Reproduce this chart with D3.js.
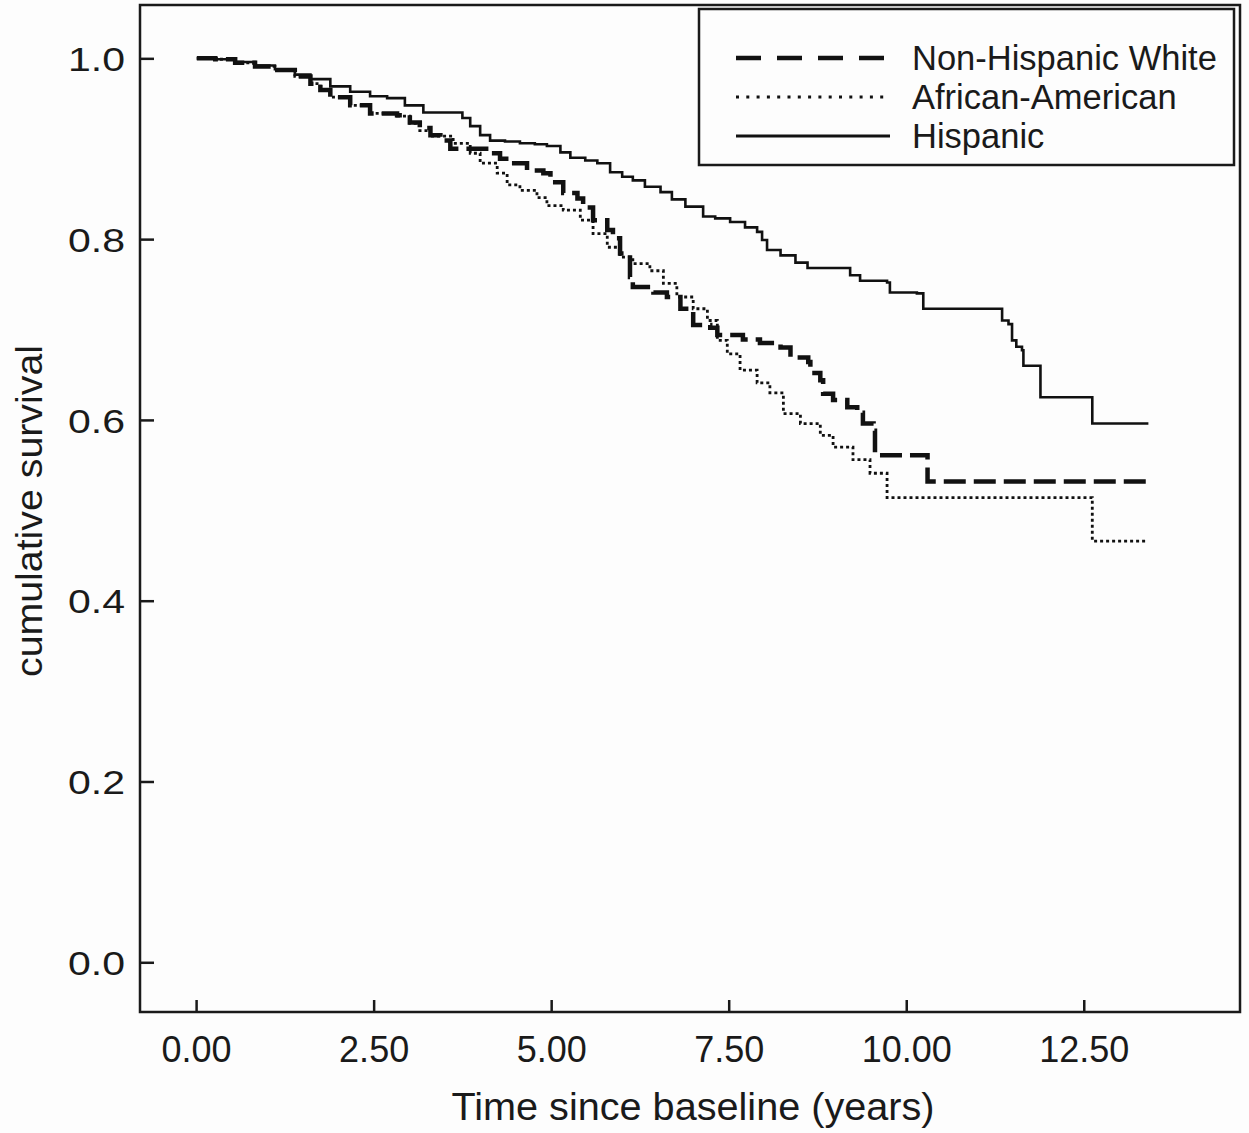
<!DOCTYPE html>
<html>
<head>
<meta charset="utf-8">
<script src="https://cdn.jsdelivr.net/npm/d3@7"></script>
<style>
  body { margin: 0; background: #fff; }
  svg text { font-family: "Liberation Sans", Arial, sans-serif; fill: #1a1a1a; }
</style>
</head>
<body>
<div id="chart"></div>
<script>
// Kaplan-Meier survival by ethnic group

const groupNames = ['Non-Hispanic White', 'African-American', 'Hispanic'];

const yTicks = [0.0, 0.2, 0.4, 0.6, 0.8, 1.0];
const xTicks = [0, 2.5, 5, 7.5, 10, 12.5];

// [time (years), cumulative survival]
const whiteCurve = [
  [0.01, 1.0], [0.27, 0.999], [0.55, 0.995], [0.83, 0.991], [1.11, 0.987], [1.39, 0.980],
  [1.61, 0.972], [1.75, 0.965], [1.89, 0.957], [2.17, 0.948], [2.45, 0.939], [2.83, 0.937],
  [3.01, 0.929], [3.15, 0.923], [3.30, 0.915], [3.44, 0.909], [3.58, 0.900], [4.14, 0.895],
  [4.28, 0.889], [4.42, 0.884], [4.66, 0.876], [4.89, 0.873], [4.99, 0.863], [5.17, 0.851],
  [5.37, 0.845], [5.45, 0.835], [5.59, 0.821], [5.79, 0.810], [5.87, 0.801], [5.97, 0.784],
  [6.11, 0.758], [6.15, 0.747], [6.44, 0.741], [6.63, 0.736], [6.82, 0.723], [7.00, 0.705],
  [7.24, 0.702], [7.34, 0.694], [7.70, 0.689], [7.94, 0.685], [8.23, 0.680], [8.37, 0.669],
  [8.62, 0.664], [8.65, 0.652], [8.79, 0.644], [8.83, 0.629], [8.97, 0.622], [9.17, 0.614],
  [9.31, 0.608], [9.39, 0.596], [9.54, 0.588], [9.56, 0.561], [10.30, 0.532], [13.39, 0.532]
];

const africanCurve = [
  [0.01, 1.0], [0.27, 0.999], [0.55, 0.995], [0.83, 0.991], [1.11, 0.987], [1.39, 0.980],
  [1.61, 0.972], [1.75, 0.965], [1.89, 0.957], [2.17, 0.948], [2.45, 0.939], [2.83, 0.936],
  [3.01, 0.928], [3.15, 0.920], [3.30, 0.914], [3.62, 0.906], [3.86, 0.895], [4.00, 0.884],
  [4.24, 0.873], [4.38, 0.860], [4.56, 0.854], [4.80, 0.846], [4.94, 0.837], [5.17, 0.832],
  [5.41, 0.821], [5.59, 0.806], [5.79, 0.791], [5.97, 0.780], [6.15, 0.773], [6.39, 0.765],
  [6.58, 0.751], [6.77, 0.736], [7.00, 0.723], [7.20, 0.710], [7.34, 0.688], [7.48, 0.673],
  [7.66, 0.655], [7.90, 0.641], [8.08, 0.630], [8.27, 0.607], [8.51, 0.596], [8.79, 0.583],
  [8.97, 0.570], [9.25, 0.556], [9.49, 0.541], [9.73, 0.514], [12.62, 0.466], [13.39, 0.466]
];

const hispanicCurve = [
  [0.01, 1.0], [0.27, 0.999], [0.55, 0.996], [0.83, 0.992], [1.11, 0.988], [1.39, 0.982],
  [1.61, 0.977], [1.89, 0.969], [2.17, 0.963], [2.45, 0.958], [2.69, 0.956], [2.94, 0.948],
  [3.20, 0.940], [3.75, 0.934], [3.86, 0.925], [4.00, 0.915], [4.14, 0.909], [4.35, 0.908],
  [4.56, 0.906], [4.77, 0.905], [4.94, 0.903], [5.13, 0.896], [5.27, 0.890], [5.48, 0.887],
  [5.65, 0.884], [5.83, 0.874], [6.00, 0.869], [6.15, 0.865], [6.32, 0.858], [6.54, 0.852],
  [6.70, 0.844], [6.89, 0.836], [7.14, 0.825], [7.31, 0.823], [7.52, 0.819], [7.73, 0.813],
  [7.90, 0.808], [7.97, 0.799], [8.04, 0.788], [8.23, 0.782], [8.44, 0.774], [8.61, 0.768],
  [9.21, 0.760], [9.35, 0.754], [9.73, 0.752], [9.77, 0.741], [10.15, 0.740], [10.24, 0.723],
  [11.35, 0.710], [11.44, 0.706], [11.49, 0.688], [11.55, 0.681], [11.63, 0.677], [11.65, 0.660],
  [11.89, 0.625], [12.62, 0.596], [13.41, 0.596]
];

const curves = [whiteCurve, africanCurve, hispanicCurve];

function drawChart() {
    const width = 1249, height = 1133;
    const frame = {left: 140, right: 1240, top: 5, bottom: 1012};

    const svg = d3.select('#chart')
        .append('svg')
        .attr('width', width)
        .attr('height', height);

    svg.append('rect')
        .attr('width', width)
        .attr('height', height)
        .attr('fill', '#fdfdfd');

    const xScale = d3.scaleLinear()
        .domain([-0.79, 14.7])
        .range([frame.left, frame.right]);

    const yScale = d3.scaleLinear()
        .domain([-0.055, 1.059])
        .range([frame.bottom, frame.top]);

    // line styles per group: dashed, dotted, solid
    const styles = [
        {width: 4.5, dash: '22,8', legendDash: '25,16'},
        {width: 2.8, dash: '3,3', legendDash: '3,7.3'},
        {width: 2.6, dash: null, legendDash: null}
    ];

    // y axis (ticks point inward)
    const yAxis = d3.axisLeft(yScale)
        .tickValues(yTicks)
        .tickSize(-14)
        .tickPadding(15)
        .tickFormat(d3.format('.1f'));

    const yg = svg.append('g')
        .attr('transform', `translate(${frame.left},0)`)
        .call(yAxis);
    yg.select('.domain').remove();
    yg.selectAll('line').attr('stroke', '#1a1a1a').attr('stroke-width', 2.5);
    yg.selectAll('text')
        .attr('font-size', 34)
        .attr('textLength', 57)
        .attr('lengthAdjust', 'spacingAndGlyphs')
        .attr('dy', '0.36em');

    // x axis
    const xAxis = d3.axisBottom(xScale)
        .tickValues(xTicks)
        .tickSize(-12)
        .tickPadding(24)
        .tickFormat(d3.format('.2f'));

    const xg = svg.append('g')
        .attr('transform', `translate(0,${frame.bottom})`)
        .call(xAxis);
    xg.select('.domain').remove();
    xg.selectAll('line').attr('stroke', '#1a1a1a').attr('stroke-width', 2.5);
    xg.selectAll('text').attr('font-size', 36);

    // frame
    svg.append('rect')
        .attr('x', frame.left)
        .attr('y', frame.top)
        .attr('width', frame.right - frame.left)
        .attr('height', frame.bottom - frame.top)
        .attr('fill', 'none')
        .attr('stroke', '#1a1a1a')
        .attr('stroke-width', 2.5);

    // axis titles
    svg.append('text')
        .attr('x', 693)
        .attr('y', 1120)
        .attr('text-anchor', 'middle')
        .attr('font-size', 38)
        .attr('textLength', 483)
        .attr('lengthAdjust', 'spacingAndGlyphs')
        .text('Time since baseline (years)');

    svg.append('text')
        .attr('transform', 'translate(42,511) rotate(-90)')
        .attr('text-anchor', 'middle')
        .attr('font-size', 36)
        .attr('textLength', 332)
        .attr('lengthAdjust', 'spacingAndGlyphs')
        .text('cumulative survival');

    // survival curves
    const line = d3.line()
        .x(d => xScale(d[0]))
        .y(d => yScale(d[1]))
        .curve(d3.curveStepAfter);

    svg.selectAll('.km-curve')
        .data(curves)
        .enter()
        .append('path')
        .attr('class', 'km-curve')
        .attr('d', line)
        .attr('fill', 'none')
        .attr('stroke', '#111')
        .attr('stroke-width', (d, i) => styles[i].width)
        .attr('stroke-dasharray', (d, i) => styles[i].dash);

    // legend
    const legend = svg.append('g').attr('class', 'legend');
    legend.append('rect')
        .attr('x', 699)
        .attr('y', 9)
        .attr('width', 535)
        .attr('height', 156)
        .attr('fill', '#fdfdfd')
        .attr('stroke', '#1a1a1a')
        .attr('stroke-width', 2.5);

    const rows = legend.selectAll('.legend-row')
        .data(groupNames)
        .enter()
        .append('g')
        .attr('class', 'legend-row')
        .attr('transform', (d, i) => `translate(0,${58 + i * 39})`);

    rows.append('line')
        .attr('x1', 736)
        .attr('x2', (d, i) => i === 0 ? 886 : 890)
        .attr('stroke', '#111')
        .attr('stroke-width', (d, i) => i === 0 ? 4.5 : 3)
        .attr('stroke-dasharray', (d, i) => styles[i].legendDash);

    rows.append('text')
        .attr('x', 912)
        .attr('y', 12)
        .attr('font-size', 34.5)
        .text(d => d);
}

drawChart();
</script>
</body>
</html>
